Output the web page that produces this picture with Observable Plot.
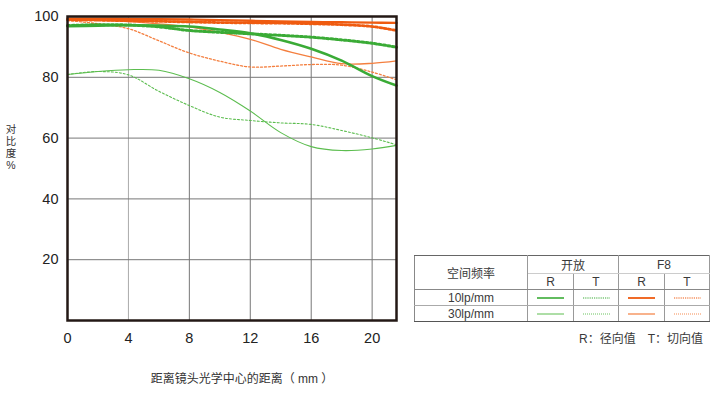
<!DOCTYPE html>
<html>
<head>
<meta charset="utf-8">
<script src="https://cdn.jsdelivr.net/npm/d3@7"></script>
<script src="https://cdn.jsdelivr.net/npm/@observablehq/plot@0.6"></script>
<style>
  html, body { margin: 0; padding: 0; background: #fff; }
  #wrap { position: relative; width: 716px; height: 395px; overflow: hidden; font-family: "Liberation Sans", "Noto Sans CJK SC", sans-serif; color: #333; }
  #chart { position: absolute; left: 0; top: 0; }
  .cjk { font-family: "Liberation Sans", "Noto Sans CJK SC", sans-serif; }
  .ych { position: absolute; left: 3px; width: 16px; text-align: center; font-size: 10.5px; line-height: 12px; height: 12px; color: #333; white-space: nowrap; }
  #xlab { position: absolute; left: 92px; width: 300px; top: 369px; text-align: center; font-size: 12px; color: #333; }
  #legend { position: absolute; left: 414px; top: 255px; border-collapse: collapse; font-size: 12px; color: #3a3a3a; table-layout: fixed; }
  #legend td { padding: 0; text-align: center; vertical-align: middle; border: 1px solid #999; }
  #note { position: absolute; left: 560px; width: 143px; top: 329px; text-align: right; font-size: 12px; color: #3a3a3a; white-space: nowrap; }
</style>
</head>
<body>
<div id="wrap">
  <div id="chart"></div>
  <div id="ylab" class="cjk"></div>
  <div id="xlab" class="cjk"></div>
  <table id="legend" class="cjk"></table>
  <div id="note" class="cjk"></div>
</div>
<script>
// ---- data ----
const xs = [0, 2, 4, 6, 8, 10, 12, 14, 16, 18, 20, 21.6];
const openR10 = [96.8, 97.0, 97.1, 97.0, 96.7, 95.7, 94.5, 92.3, 89.4, 85.5, 80.4, 77.3];
const openT10 = [97.0, 97.3, 97.2, 96.6, 95.4, 94.8, 94.3, 93.8, 93.2, 92.3, 91.2, 89.9];
const openR30 = [80.9, 81.9, 82.5, 82.3, 79.5, 75.0, 68.9, 61.8, 57.2, 55.9, 56.4, 57.6];
const openT30 = [80.9, 81.9, 80.8, 75.4, 70.7, 66.9, 65.8, 65.0, 64.5, 62.5, 60.1, 57.8];
const f8R10 = [99.3, 99.3, 99.2, 99.1, 99.0, 98.8, 98.6, 98.4, 98.2, 98.1, 98.0, 97.9];
const f8T10 = [98.9, 98.8, 98.6, 98.4, 98.2, 98.0, 97.9, 97.8, 97.6, 97.3, 96.7, 95.4];
const f8R30 = [99.0, 98.7, 98.3, 97.6, 96.6, 94.8, 92.5, 89.2, 86.7, 84.5, 84.6, 85.4];
const f8T30 = [98.7, 97.6, 96.0, 92.0, 88.0, 85.3, 83.4, 83.7, 84.2, 84.0, 81.7, 79.2];

const xTickLabels = [0, 4, 8, 12, 16, 20];
const yTickLabels = [20, 40, 60, 80, 100];
const xGrid = [4, 8, 12, 16, 20];
const yGrid = [20, 40, 60, 80];

const yTitle = ["对", "比", "度", "%"];
const xTitle = "距离镜头光学中心的距离（ mm ）";
const freqHeader = "空间频率";
const apertures = ["开放", "F8"];
const rtLabels = ["R", "T", "R", "T"];
const freqs = ["10lp/mm", "30lp/mm"];
const noteText = "R：径向值　T：切向值";

// ---- styles ----
const C = {
  g10: "#3aab36", g30: "#5cbd4f",
  o10: "#ef5b10", o30: "#f47f3f"
};

const series = [
  {name: "openR30", v: openR30, color: C.g30, w: 1.1, dash: null},
  {name: "openT30", v: openT30, color: C.g30, w: 1.1, dash: "2,2"},
  {name: "f8R30", v: f8R30, color: C.o30, w: 1.3, dash: null},
  {name: "f8T30", v: f8T30, color: C.o30, w: 1.3, dash: "2,2"},
  {name: "openT10", v: openT10, color: C.g10, w: 3, dash: "2.2,2.2"},
  {name: "openR10", v: openR10, color: C.g10, w: 2.6, dash: null},
  {name: "f8T10", v: f8T10, color: C.o10, w: 2.8, dash: "2.2,2.2"},
  {name: "f8R10", v: f8R10, color: C.o10, w: 2.4, dash: null}
];

const lineMarks = series.map(s => Plot.line(xs.map((x, i) => ({x, y: s.v[i]})), {
  x: "x", y: "y", stroke: s.color, strokeWidth: s.w,
  strokeDasharray: s.dash, curve: "catmull-rom"
}));

const chart = Plot.plot({
  width: 716, height: 395,
  marginLeft: 67, marginRight: 320, marginTop: 16, marginBottom: 75,
  x: {domain: [0, 21.6]},
  y: {domain: [0, 100]},
  style: {fontFamily: "'Liberation Sans', Arial, sans-serif", fontSize: "14px", color: "#222", background: "transparent"},
  marks: [
    Plot.gridX(xGrid, {stroke: d => d === 4 ? "#aaa" : "#777", strokeOpacity: 1, strokeWidth: 1}),
    Plot.gridY(yGrid, {stroke: "#777", strokeOpacity: 1, strokeWidth: 1}),
    ...lineMarks,
    Plot.frame({stroke: "#231815", strokeWidth: 2.5}),
    Plot.axisX(xTickLabels, {tickSize: 0, tickPadding: 12, label: null, fontSize: 14.5}),
    Plot.axisY(yTickLabels, {tickSize: 0, tickPadding: 9, label: null, fontSize: 14.5})
  ]
});
document.getElementById("chart").appendChild(chart);

const ylab = document.getElementById("ylab");
yTitle.forEach((ch, i) => {
  const d = document.createElement("div");
  d.className = "ych";
  d.style.top = (123 + i * 12) + "px";
  d.textContent = ch;
  ylab.appendChild(d);
});
document.getElementById("xlab").textContent = xTitle;
document.getElementById("note").textContent = noteText;

// ---- legend table ----
function sample(color, w, dash) {
  return `<svg width="27" height="4" style="display:block;margin:0 auto"><line x1="0" x2="27" y1="2" y2="2" stroke="${color}" stroke-width="${w}" ${dash ? `stroke-dasharray="${dash}"` : ""}/></svg>`;
}
const colW = [113, 46, 45, 46, 45];
const tbl = document.getElementById("legend");
let html = "<colgroup>" + colW.map(w => `<col style="width:${w}px">`).join("") + "</colgroup>";
html += `<tr style="height:16px"><td rowspan="2" style="border-top:1px solid #666;border-left:1px solid #888;border-bottom:1.5px solid #888">${freqHeader}</td>` +
  apertures.map(a => `<td colspan="2" style="border-top:1px solid #666;border-bottom:1px solid #ccc">${a}</td>`).join("") + "</tr>";
html += `<tr style="height:16px">` + rtLabels.map(t => `<td style="border-bottom:1.5px solid #888;border-top:1px solid #ccc">${t}</td>`).join("") + "</tr>";
const legendStyles = [
  [[C.g10, 1.6, null], [C.g10, 1.2, "1.2,1"], [C.o10, 1.8, null], [C.o10, 1.2, "1.2,1"]],
  [[C.g30, 1, null], [C.g30, 0.9, "1,1"], [C.o30, 1.2, null], [C.o30, 0.9, "1,1"]]
];
freqs.forEach((f, r) => {
  const bottom = r === 1 ? "border-bottom:1px solid #555;" : "border-bottom:1px solid #aaa;";
  html += `<tr style="height:16px"><td style="${bottom}border-left:1px solid #888">${f}</td>` +
    legendStyles[r].map(s => `<td style="${bottom}">${sample(...s)}</td>`).join("") + "</tr>";
});
tbl.innerHTML = html;
</script>
</body>
</html>
